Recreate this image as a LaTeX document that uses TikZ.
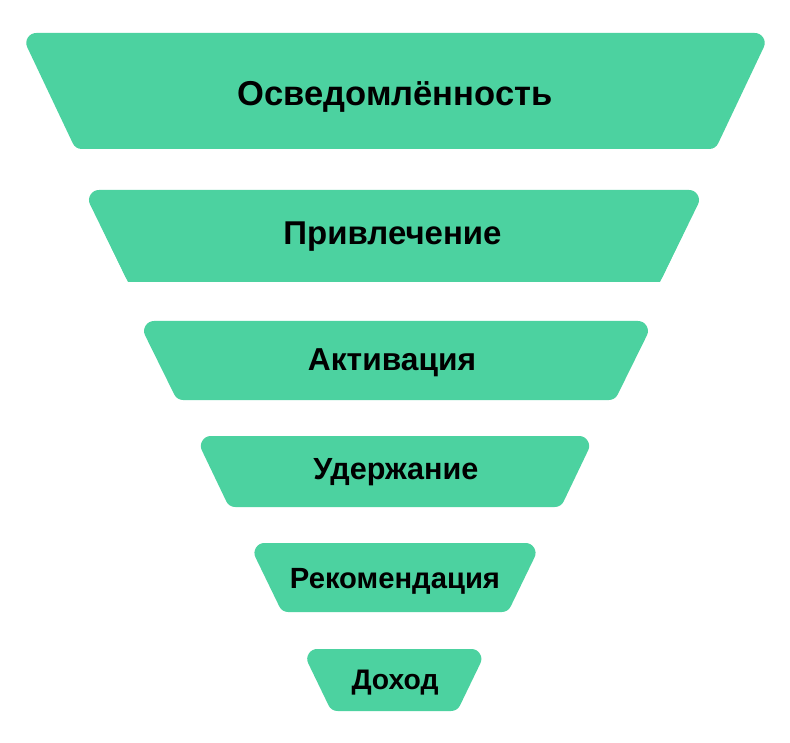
\documentclass[tikz,border=0pt]{standalone}
\usepackage{fontspec}
\setmainfont{Liberation Sans}
\definecolor{funnelgreen}{HTML}{4CD2A0}
\newcommand{\funnelpart}[6]{%
  \pgfmathsetmacro{\fnS}{(#4-#5)/(#3-#2)}%
  \pgfmathsetmacro{\fnK}{#6*sqrt(1+\fnS*\fnS)}%
  \pgfmathsetmacro{\fnTL}{#1-#4+\fnS*#6+\fnK}%
  \pgfmathsetmacro{\fnTR}{#1+#4-\fnS*#6-\fnK}%
  \pgfmathsetmacro{\fnBL}{#1-#5-\fnS*#6+\fnK}%
  \pgfmathsetmacro{\fnBR}{#1+#5+\fnS*#6-\fnK}%
  \pgfmathsetmacro{\fnT}{#2+#6}%
  \pgfmathsetmacro{\fnB}{#3-#6}%
  \filldraw[funnelbox, line width=2*#6] (\fnTL,\fnT) -- (\fnTR,\fnT) -- (\fnBR,\fnB) -- (\fnBL,\fnB) -- cycle;%
}
\begin{document}
\begin{tikzpicture}[x=1pt,y=-1pt,
  funnelbox/.style={fill=funnelgreen, draw=funnelgreen, line join=round},
  lbl/.style={anchor=base, inner sep=0pt, text=black, font=\bfseries}]
\useasboundingbox (0,0) rectangle (790,743);
\fill[white] (0,0) rectangle (790,743);
% funnel stages
\funnelpart{395.5}{33}{149}{375}{320}{10}
\funnelpart{394}{190}{282}{311}{266}{10}
\fill[funnelgreen] (103,230) -- (685,230) -- (660,282) -- (128,282) -- cycle;
\funnelpart{396}{321}{400}{258}{219}{10}
\funnelpart{395}{436}{507}{200}{166}{10}
\funnelpart{395}{543}{612}{146.5}{113}{10}
\funnelpart{394.3}{649}{711}{93}{63}{10}
% labels
\node[lbl] (t1) at (395,105.5) {\resizebox{315pt}{!}{Осведомлённость}};
\node[lbl] (t2) at (392.5,245) {\resizebox{218pt}{!}{Привлечение}};
\node[lbl] (t3) at (392,370.7) {\resizebox{168pt}{!}{Активация}};
\node[lbl] (t4) at (395.8,479.3) {\resizebox{165pt}{!}{Удержание}};
\node[lbl] (t5) at (395,588.3) {\resizebox{210pt}{!}{Рекомендация}};
\node[lbl] (t6) at (395,689) {\resizebox{87pt}{!}{Доход}};
\end{tikzpicture}
\end{document}
